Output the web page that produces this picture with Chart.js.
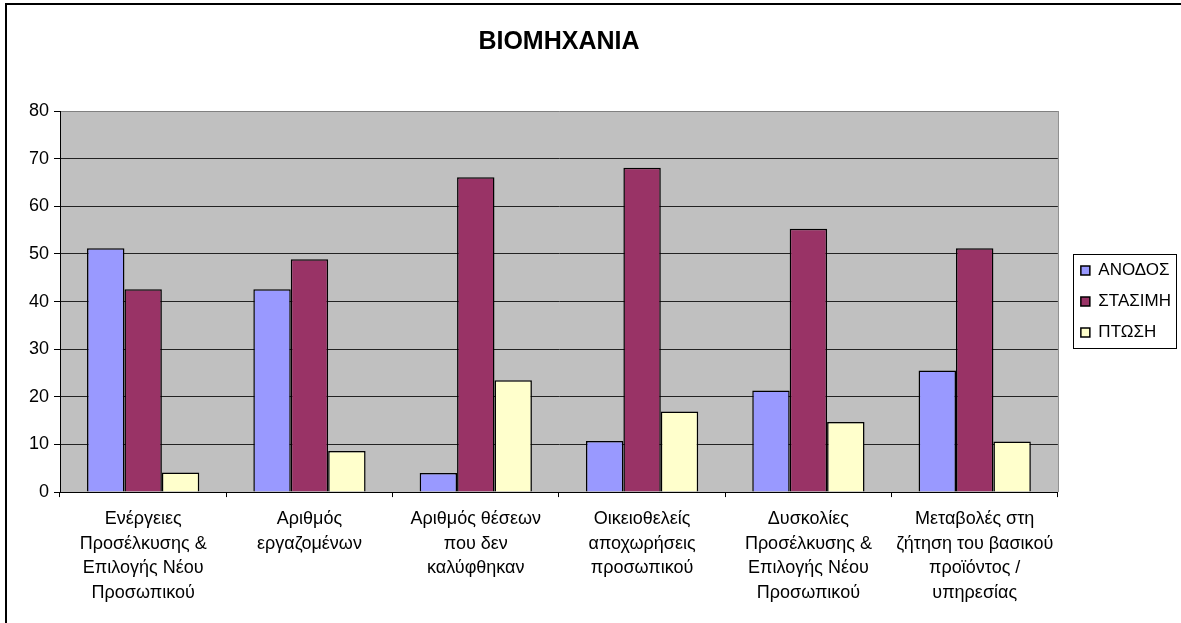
<!DOCTYPE html>
<html>
<head>
<meta charset="utf-8">
<script src="https://cdn.jsdelivr.net/npm/chart.js@4"></script>
<style>
  html, body { margin: 0; padding: 0; background: #fff; }
  #wrap { width: 1181px; height: 623px; }
</style>
</head>
<body>
<div id="wrap"><canvas id="myChart" width="1181" height="623"></canvas></div>
<script>
const categories = [
    ["Ενέργειες", "Προσέλκυσης &", "Επιλογής Νέου", "Προσωπικού"],
    ["Αριθμός", "εργαζομένων"],
    ["Αριθμός θέσεων", "που δεν", "καλύφθηκαν"],
    ["Οικειοθελείς", "αποχωρήσεις", "προσωπικού"],
    ["Δυσκολίες", "Προσέλκυσης &", "Επιλογής Νέου", "Προσωπικού"],
    ["Μεταβολές στη", "ζήτηση του βασικού", "προϊόντος /", "υπηρεσίας"]
];
const seriesNames = ["ΑΝΟΔΟΣ", "ΣΤΑΣΙΜΗ", "ΠΤΩΣΗ"];
const anodos = [51.2, 42.6, 4.0, 10.7, 21.3, 25.5];
const stasimi = [42.6, 48.9, 66.1, 68.1, 55.3, 51.2];
const ptosi = [4.1, 8.6, 23.5, 16.9, 14.7, 10.6];
const yTicks = [0, 10, 20, 30, 40, 50, 60, 70, 80];

const colors = ["#9999FF", "#993366", "#FFFFCC"];
const FONT = "'Liberation Sans', Arial, sans-serif";

// gray plot area, outer frame, legend frame
const frame = {
    id: "frame",
    afterLayout(chart) {
        // nudge legend a bit away from the plot like the original
        chart.legend.left += 9;
        chart.legend.right += 9;
    },
    beforeDraw(chart) {
        const c = chart.ctx;
        const a = chart.chartArea;
        c.save();
        c.fillStyle = "#C0C0C0";
        c.fillRect(a.left, a.top, a.right - a.left, a.bottom - a.top);
        c.strokeStyle = "#808080";
        c.lineWidth = 1;
        c.beginPath();
        c.moveTo(a.right + 0.5, a.top);
        c.lineTo(a.right + 0.5, a.bottom);
        c.stroke();
        c.strokeStyle = "#000";
        c.lineWidth = 2;
        c.strokeRect(6, 4, 1400, 900);
        c.restore();
    },
    afterDraw(chart) {
        const hb = chart.legend.legendHitBoxes;
        if (!hb || !hb.length) return;
        const c = chart.ctx;
        const last = hb[hb.length - 1];
        const x0 = hb[0].left - 8;
        const y0 = hb[0].top - 8;
        const y1 = last.top + last.height + 7;
        c.save();
        c.strokeStyle = "#000";
        c.lineWidth = 1;
        c.strokeRect(Math.round(x0) + 0.5, Math.round(y0) + 0.5, 1176 - Math.round(x0), Math.round(y1 - y0));
        c.restore();
    }
};

const ctx = document.getElementById("myChart");

new Chart(ctx, {
    type: "bar",
    data: {
        labels: categories,
        datasets: [
            { label: seriesNames[0], data: anodos, backgroundColor: colors[0], borderColor: "#000", borderWidth: 1.5 },
            { label: seriesNames[1], data: stasimi, backgroundColor: colors[1], borderColor: "#000", borderWidth: 1.5 },
            { label: seriesNames[2], data: ptosi, backgroundColor: colors[2], borderColor: "#000", borderWidth: 1.5 }
        ]
    },
    options: {
        responsive: false,
        animation: false,
        devicePixelRatio: 1,
        categoryPercentage: 0.675,
        barPercentage: 1,
        layout: { padding: { left: 0, right: 9, top: 0, bottom: 8 } },
        plugins: {
            tooltip: { enabled: false },
            title: {
                display: true,
                text: "ΒΙΟΜΗΧΑΝΙΑ",
                fullSize: false,
                color: "#000",
                font: { family: FONT, size: 25, weight: "bold", lineHeight: 1.2 },
                padding: { top: 27, bottom: 54 }
            },
            legend: {
                position: "right",
                fullSize: false,
                labels: {
                    color: "#000",
                    boxWidth: 9,
                    boxHeight: 9,
                    padding: 14,
                    font: { family: FONT, size: 17 }
                }
            }
        },
        scales: {
            x: {
                grid: {
                    drawOnChartArea: false,
                    drawTicks: true,
                    tickLength: 5,
                    color: "#000"
                },
                border: { color: "#000", width: 1 },
                ticks: {
                    color: "#000",
                    padding: 10,
                    maxRotation: 0,
                    autoSkip: false,
                    font: { family: FONT, size: 18, lineHeight: 1.36 }
                }
            },
            y: {
                min: 0,
                max: 80,
                afterFit(scale) { scale.width = 60; },
                afterBuildTicks(scale) { scale.ticks = yTicks.map(v => ({ value: v })); },
                grid: {
                    color: (c) => (c.tick && c.tick.value === 80 ? "#808080" : "#222"),
                    tickColor: "#000",
                    tickLength: 6,
                    lineWidth: 1
                },
                border: { color: "#000", width: 1 },
                ticks: {
                    color: "#000",
                    padding: 5,
                    font: { family: FONT, size: 18 }
                }
            }
        }
    },
    plugins: [frame]
});
</script>
</body>
</html>
